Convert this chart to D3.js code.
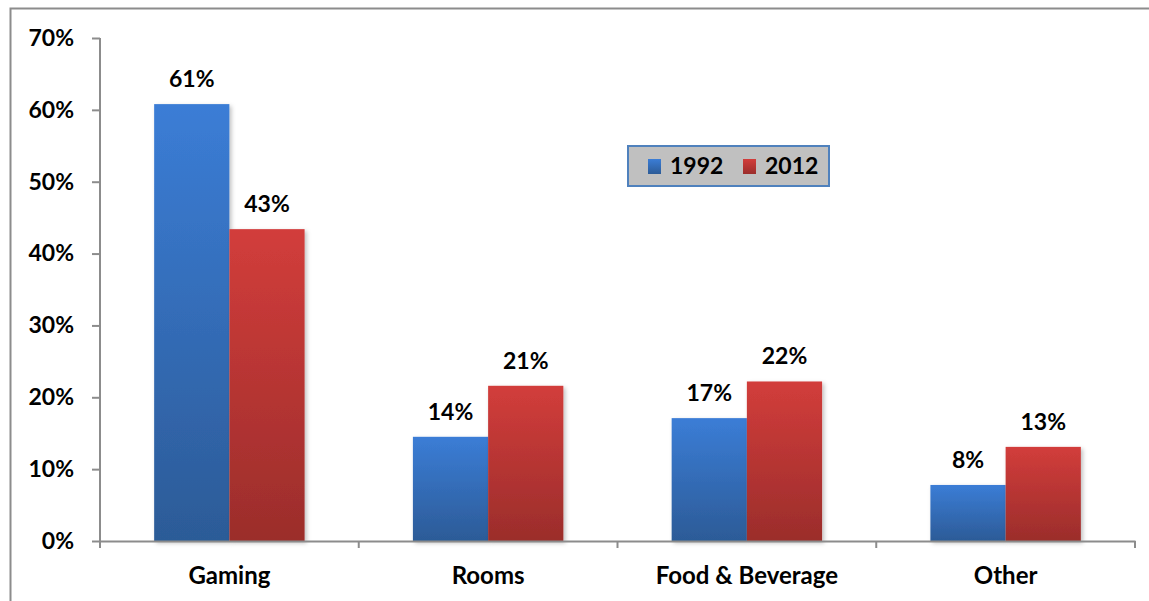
<!DOCTYPE html>
<html>
<head>
<meta charset="utf-8">
<script src="https://cdn.jsdelivr.net/npm/d3@7"></script>
<style>
  body { margin: 0; background: #fff; }
  text { font-family: Lato, "Open Sans", sans-serif; font-weight: bold; fill: #000; }
</style>
</head>
<body>
<svg id="chart" width="1149" height="601"></svg>
<script>
// data
var categories = ['Gaming', 'Rooms', 'Food & Beverage', 'Other']
var years = ['1992', '2012']
var values1992 = [0.608, 0.145, 0.171, 0.078]
var values2012 = [0.434, 0.216, 0.222, 0.131]
var labels1992 = ['61%', '14%', '17%', '8%']
var labels2012 = ['43%', '21%', '22%', '13%']
var yTicks = [0, 0.1, 0.2, 0.3, 0.4, 0.5, 0.6, 0.7]

var svg = d3.select('#chart')
var margin = { top: 38, left: 100, right: 14, bottom: 60 }
var width = 1149 - margin.left - margin.right,
    height = 601 - margin.top - margin.bottom

// gradients for the bars
var defs = svg.append('defs')
function grad(id, top, bottom) {
    var g = defs.append('linearGradient').attr('id', id)
        .attr('x1', 0).attr('y1', 0).attr('x2', 0).attr('y2', 1)
    g.append('stop').attr('offset', '0%').attr('stop-color', top)
    g.append('stop').attr('offset', '100%').attr('stop-color', bottom)
}
grad('g1992', '#3b7dd6', '#2c5b97')
grad('g2012', '#d23d3b', '#9b2d2b')
var f = defs.append('filter').attr('id', 'shadow').attr('x', '-20%').attr('y', '-20%').attr('width', '140%').attr('height', '140%')
f.append('feDropShadow').attr('dx', 2).attr('dy', 2).attr('stdDeviation', 2).attr('flood-color', '#000').attr('flood-opacity', 0.25)

// outer border
svg.append('rect').attr('x', 10.5).attr('y', 8.5).attr('width', 1160).attr('height', 620)
    .attr('fill', 'none').attr('stroke', '#8c8c8c').attr('stroke-width', 2)

var g = svg.append('g').attr('transform', `translate(${margin.left},${margin.top})`)

var x = d3.scaleBand().domain(categories).range([0, width]).paddingInner(0).paddingOuter(0)
var xs = d3.scaleBand().domain(years).range([0, x.bandwidth()]).paddingInner(0).paddingOuter(0.72)
var y = d3.scaleLinear().domain([0, 0.7]).range([503, 0])

var rows = categories.map(function(c, i) {
    return { cat: c, vals: [
        { year: '1992', v: values1992[i], label: labels1992[i] },
        { year: '2012', v: values2012[i], label: labels2012[i] }
    ] }
})

// y axis
var yAxis = g.append('g').call(d3.axisLeft(y).tickValues(yTicks).tickFormat(d3.format('.0%')).tickSize(8).tickSizeOuter(0))
yAxis.select('.domain').attr('stroke', '#8c8c8c').attr('stroke-width', 2).attr('d', 'M0,0V510')
yAxis.selectAll('.tick line').attr('stroke', '#8c8c8c').attr('stroke-width', 2)
yAxis.selectAll('.tick text').attr('x', -26).style('font-size', '23px').style('font-family', 'Lato, sans-serif').style('font-weight', 'bold')

// bars
var groups = g.selectAll('.grp').data(rows).enter().append('g')
    .attr('class', 'grp')
    .attr('transform', d => `translate(${x(d.cat)},0)`)

groups.selectAll('rect').data(d => d.vals).enter().append('rect')
    .attr('x', d => xs(d.year))
    .attr('width', xs.bandwidth())
    .attr('y', d => y(d.v))
    .attr('height', d => y(0) - y(d.v))
    .attr('fill', d => 'url(#g' + d.year + ')')
    .attr('filter', 'url(#shadow)')

groups.selectAll('.lbl').data(d => d.vals).enter().append('text')
    .attr('class', 'lbl')
    .attr('x', d => xs(d.year) + xs.bandwidth() / 2)
    .attr('y', d => y(d.v) - 17)
    .attr('text-anchor', 'middle')
    .style('font-size', '23px')
    .text(d => d.label)

// x axis
var xAxis = g.append('g').attr('transform', `translate(0,${y(0)})`)
    .call(d3.axisBottom(x).tickSize(0).tickSizeOuter(0))
xAxis.select('.domain').attr('stroke', '#8c8c8c').attr('stroke-width', 2)
xAxis.selectAll('.tick text').attr('y', 26).style('font-size', '24px').style('font-family', 'Lato, sans-serif').style('font-weight', 'bold')
// category separator ticks
g.selectAll('.sep').data(categories.concat(['end'])).enter().append('line')
    .attr('class', 'sep')
    .attr('x1', (d, i) => i * x.bandwidth()).attr('x2', (d, i) => i * x.bandwidth())
    .attr('y1', y(0)).attr('y2', y(0) + 7)
    .attr('stroke', '#8c8c8c').attr('stroke-width', 2)

// legend
var legend = svg.append('g').attr('transform', 'translate(628,146)')
legend.append('rect').attr('width', 201).attr('height', 40)
    .attr('fill', '#c0c0c0').attr('stroke', '#4f81bd').attr('stroke-width', 2)
var li = legend.selectAll('.li').data(years).enter().append('g')
    .attr('transform', (d, i) => `translate(${20 + i * 95},13)`)
li.append('rect').attr('width', 13).attr('height', 15).attr('fill', d => 'url(#g' + d + ')')
li.append('text').attr('x', 22).attr('y', 15).style('font-size', '23px').text(d => d)
</script>
</body>
</html>
